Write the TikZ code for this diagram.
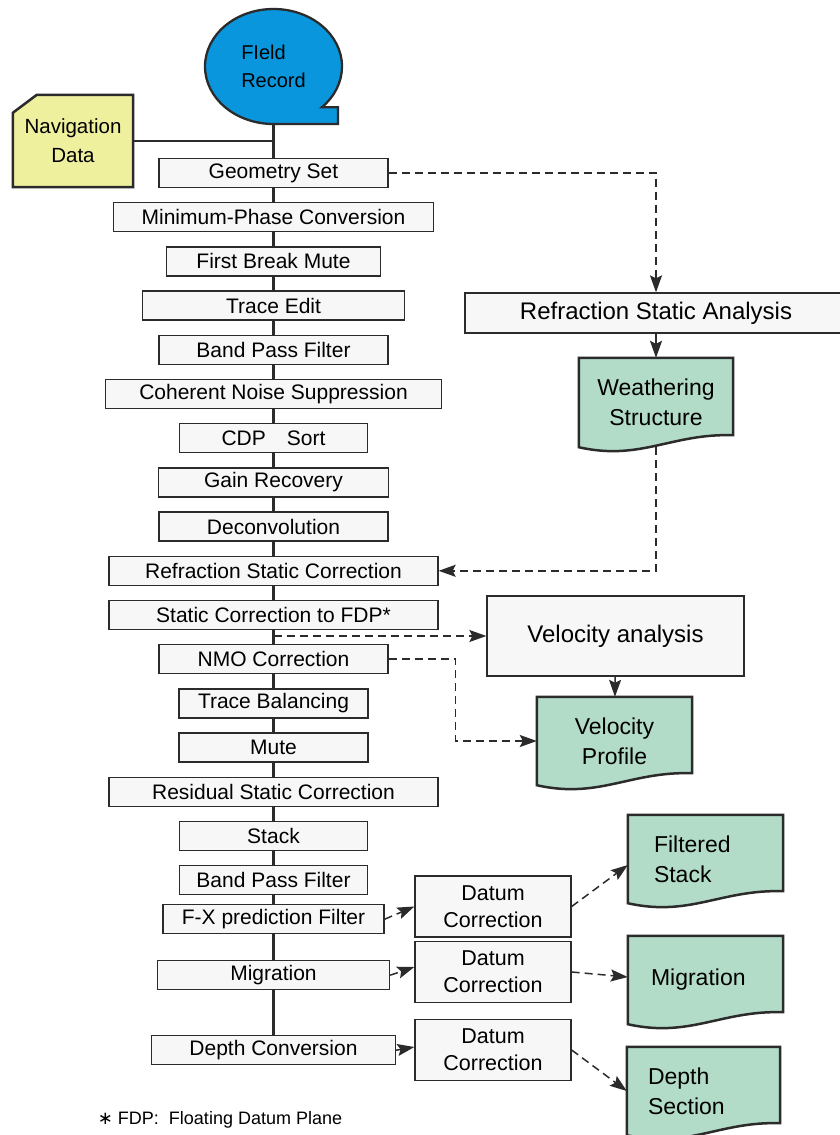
\documentclass[tikz,border=0pt]{standalone}
\usepackage{fontspec}
\setmainfont{Liberation Sans}
\newfontfamily\symbolfont{DejaVu Sans}
\usetikzlibrary{positioning,shapes.geometric,arrows.meta,backgrounds,calc}

\definecolor{boxfill}{HTML}{F7F7F7}
\definecolor{docgreen}{HTML}{B3DCC8}
\definecolor{fldblue}{HTML}{0A96DC}
\definecolor{navyellow}{HTML}{EEF09E}
\definecolor{linegray}{HTML}{2B2B2B}

% document symbol drawn behind a named node
\newcommand\docshape[1]{%
  \begin{scope}[on background layer]
    \draw[docline] let \p1=(#1.south west), \p2=(#1.north east), \n1={\x2-\x1} in
      (\p1) -- (\x1,\y2) -- (\p2) -- (\x2,\y1+12pt)
      .. controls (\x2-0.4*\n1,\y1+14pt) and (\x1+0.4*\n1,\y1-14pt) .. (\p1) -- cycle;
  \end{scope}}

\begin{document}
\begin{tikzpicture}[
    x=1pt, y=1pt,
    node distance=44.2pt,
    procbox/.style={rectangle, draw=linegray, line width=1.3pt, fill=boxfill, minimum height=29pt, inner sep=0pt, font=\fontsize{21}{25}\selectfont},
    bigbox/.style={rectangle, draw=linegray, line width=1.3pt, fill=boxfill, inner sep=0pt, font=\fontsize{24}{28}\selectfont},
    datbox/.style={rectangle, draw=linegray, line width=1.3pt, fill=boxfill, minimum width=156pt, minimum height=61pt, inner sep=0pt, align=center, font=\fontsize{21.5}{27}\selectfont},
    docnode/.style={rectangle, minimum width=155pt, minimum height=88pt, inner sep=0pt, align=center, font=\fontsize{23}{30}\selectfont},
    docline/.style={draw=linegray, line width=2.5pt, fill=docgreen, line join=miter},
    spine/.style={draw=linegray, line width=2.8pt},
    arrow/.style={draw=linegray, line width=1.5pt, -{Stealth[length=17pt,width=12pt,inset=3pt]}},
    dasharrow/.style={arrow, dash pattern=on 8pt off 5pt}
]
    \useasboundingbox (0,0) rectangle (840,-1135);

    % inputs
    \node [ellipse, minimum width=137pt, minimum height=115pt, inner sep=0pt, align=left, font=\fontsize{20}{28}\selectfont] (fld) at (273.5,-66.5) {FIeld\\Record};
    \node [rectangle, minimum width=120pt, minimum height=92pt, inner sep=0pt, align=center, font=\fontsize{20.5}{29}\selectfont] (nav) at (73,-141) {Navigation\\Data};

    % main processing flow
    \node [procbox, minimum width=229pt] (geo) at (273.5,-173) {Geometry Set};
    \node [procbox, minimum width=320pt, below of=geo] (minph) {Minimum-Phase Conversion};
    \node [procbox, minimum width=214pt, below of=minph] (fbm) {First Break Mute};
    \node [procbox, minimum width=262pt, below of=fbm] (tedit) {Trace Edit};
    \node [procbox, minimum width=229pt, below of=tedit] (bpf) {Band Pass Filter};
    \node [procbox, minimum width=336pt, below of=bpf] (cns) {Coherent Noise Suppression};
    \node [procbox, minimum width=188pt, below of=cns] (cdp) {CDP\quad Sort};
    \node [procbox, minimum width=230pt, below of=cdp] (gain) {Gain Recovery};
    \node [procbox, minimum width=229pt, below of=gain] (decon) {Deconvolution};
    \node [procbox, minimum width=329pt, below of=decon] (rsc) {Refraction Static Correction};
    \node [procbox, minimum width=329pt, below of=rsc] (fdp) {Static Correction to FDP*};
    \node [procbox, minimum width=229pt, below of=fdp] (nmo) {NMO Correction};
    \node [procbox, minimum width=189pt, below of=nmo] (tbal) {Trace Balancing};
    \node [procbox, minimum width=189pt, below of=tbal] (mute) {Mute};
    \node [procbox, minimum width=329pt, below of=mute] (resid) {Residual Static Correction};
    \node [procbox, minimum width=188pt, below of=resid] (stack) {Stack};
    \node [procbox, minimum width=188pt, below of=stack] (bpf2) {Band Pass Filter};
    \node [procbox, minimum width=221pt, below of=bpf2, node distance=39pt] (fx) {F-X prediction Filter};
    \node [procbox, minimum width=232pt, below of=fx, node distance=56pt] (mig) {Migration};
    \node [procbox, minimum width=244pt, below of=mig, node distance=75pt] (dcv) {Depth Conversion};

    % side analyses and outputs
    \node [bigbox, minimum width=382pt, minimum height=40pt] (rsa) at (656,-313) {Refraction Static Analysis};
    \node [docnode, minimum width=154pt, minimum height=89pt] (wth) at (656,-402.5) {Weathering\\Structure};
    \node [bigbox, minimum width=257pt, minimum height=80pt] (va) at (615.5,-636) {Velocity analysis};
    \node [docnode] (vprof) at (614.5,-741) {Velocity\\Profile};
    \node [datbox] (dc1) at (493,-906.5) {Datum\\Correction};
    \node [datbox] (dc2) at (493,-972) {Datum\\Correction};
    \node [datbox] (dc3) at (493,-1050) {Datum\\Correction};
    \node [docnode, text width=103pt, align=left] (fstack) at (705.5,-859) {Filtered\\Stack};
    \node [docnode, text width=109pt, align=left] (migd) at (705.5,-980) {Migration};
    \node [docnode, minimum width=153pt, text width=111pt, align=left] (dsec) at (703.5,-1091) {Depth\\Section};

    \node [font=\fontsize{18}{22}\selectfont] (note) at (220,-1120) {{\symbolfont ∗} FDP:\ \ Floating Datum Plane};

    % symbol outlines
    \begin{scope}[on background layer]
        \filldraw [draw=linegray, line width=2.3pt, fill=fldblue] ([yshift=-57.5pt]fld.center)
            arc [start angle=270, end angle=-45, x radius=68.5pt, y radius=57.5pt]
            -- ++(16,0) -- ++(0,-16.8) -- cycle;
        \filldraw [draw=linegray, line width=2.5pt, fill=navyellow] ([yshift=-18pt]nav.north west)
            -- ([xshift=24pt]nav.north west) -- (nav.north east) -- (nav.south east) -- (nav.south west) -- cycle;
    \end{scope}
    \docshape{wth}
    \docshape{vprof}
    \docshape{fstack}
    \docshape{migd}
    \docshape{dsec}

    % connectors
    \draw [spine] (fld) -- (geo) -- (minph) -- (fbm) -- (tedit) -- (bpf) -- (cns) -- (cdp) -- (gain) -- (decon)
        -- (rsc) -- (fdp) -- (nmo) -- (tbal) -- (mute) -- (resid) -- (stack) -- (bpf2) -- (fx) -- (mig) -- (dcv);
    \draw [spine] (nav) -- (nav -| fld);

    \draw [dasharrow] (geo.east) -| (rsa.north);
    \draw [arrow] (rsa) -- (wth);
    \draw [dasharrow] (wth.south) |- (rsc.east);
    \draw [dasharrow] (fdp |- va.west) -- (va);
    \draw [dasharrow] (nmo.east) -- ++(67,0) |- (vprof);
    \draw [arrow] (va) -- (vprof);

    \draw [dasharrow] (fx.east) -- (dc1.west);
    \draw [dasharrow] (mig.east) -- ([yshift=5pt]dc2.west);
    \draw [dasharrow] (dcv.east) -- ([yshift=3pt]dc3.west);
    \draw [dasharrow] (dc1.east) -- ([yshift=-6pt]fstack.west);
    \draw [dasharrow] (dc2.east) -- ([yshift=3pt]migd.west);
    \draw [dasharrow] (dc3.east) -- (dsec.west);
\end{tikzpicture}
\end{document}
